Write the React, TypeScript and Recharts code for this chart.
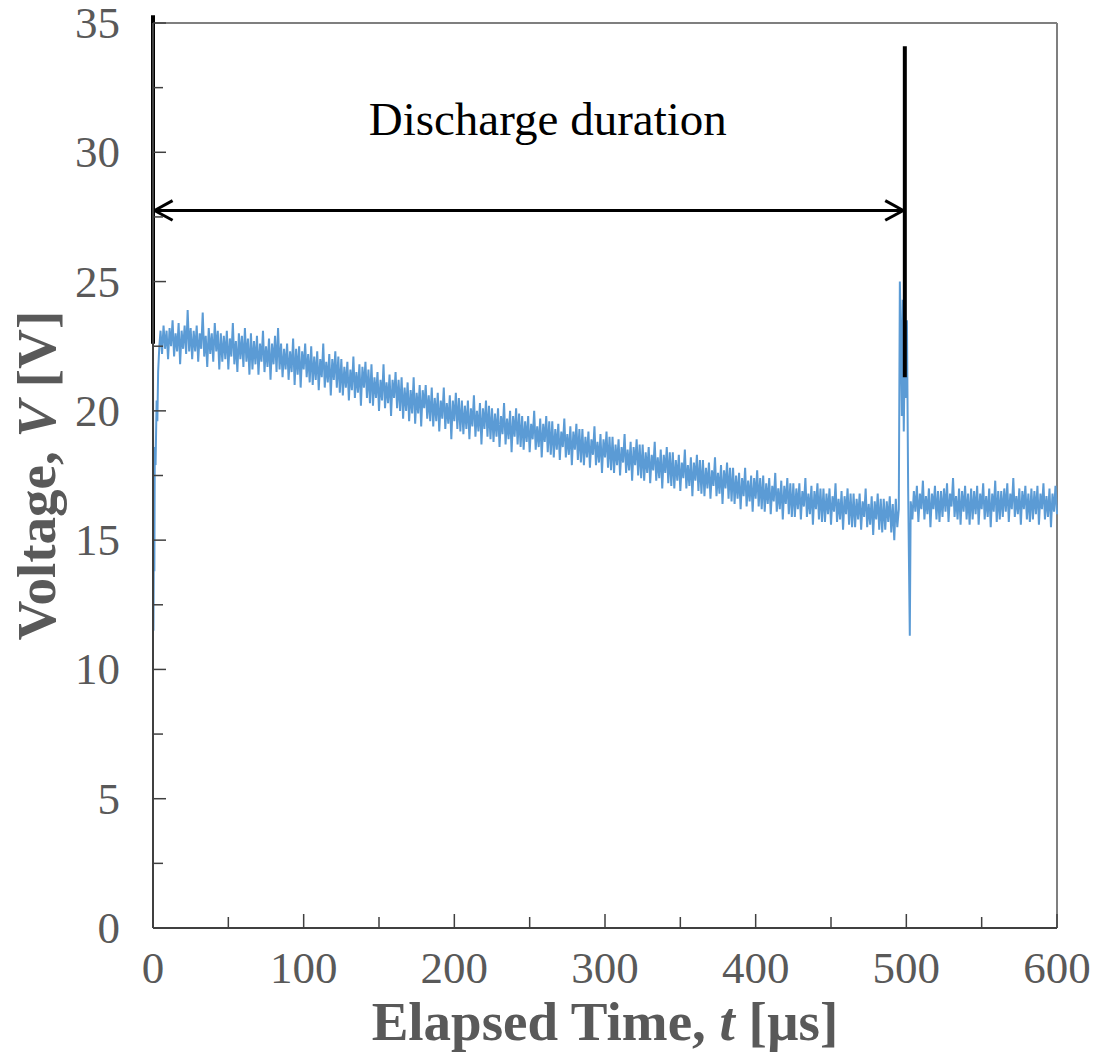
import React from "react";
import {
  LineChart,
  Line,
  XAxis,
  YAxis,
  ReferenceLine,
  ReferenceDot,
} from "recharts";

// discharge onset (sub-microsecond detail), [t µs, V]
const ONSET = [
  [0, 22.5], [0.3, 11.5], [0.6, 15.2], [0.9, 13.8], [1.2, 18.6], [1.7, 17.9],
  [2.4, 20.4], [2.9, 19.6], [3.4, 21.5], [4.2, 22.5], [5, 23.1],
];

// arc voltage during discharge, every 1 µs from t = 6 to t = 494
const DECAY_START = 6;
const DECAY_V = [
  22.2, 23.3, 22.4, 23.1, 22.0, 23.2, 22.5, 23.5, 22.1, 23.0, 22.3, 23.4, 21.8, 23.1, 22.4, 23.3, 22.2, 23.9, 22.3, 23.2,
  22.0, 23.1, 22.3, 23.3, 21.9, 23.0, 22.4, 23.8, 22.1, 22.9, 21.7, 23.2, 22.2, 23.0, 21.9, 23.4, 22.3, 23.1, 21.6, 23.0,
  21.9, 22.9, 22.0, 23.1, 21.6, 22.8, 22.1, 23.4, 21.8, 22.7, 21.5, 23.0, 22.0, 22.9, 21.7, 23.2, 21.9, 22.8, 21.4, 23.0,
  21.6, 22.7, 21.8, 22.9, 21.4, 22.6, 21.9, 23.1, 21.5, 22.5, 21.7, 22.8, 21.2, 22.6, 21.8, 22.9, 21.5, 23.2, 21.6, 22.6,
  21.3, 22.4, 21.6, 22.6, 21.2, 22.3, 21.5, 22.8, 21.0, 22.4, 21.4, 22.5, 20.9, 22.3, 21.6, 22.6, 21.3, 22.2, 21.1, 22.5,
  21.0, 22.1, 21.2, 22.3, 20.8, 22.0, 21.3, 22.6, 20.9, 21.9, 21.1, 22.2, 20.6, 22.0, 21.2, 22.3, 20.9, 22.1, 20.7, 22.0,
  20.6, 21.7, 20.9, 21.9, 20.4, 21.6, 20.8, 22.1, 20.5, 21.5, 20.7, 21.8, 20.2, 21.7, 20.9, 21.9, 20.5, 21.6, 20.3, 21.8,
  20.2, 21.3, 20.5, 21.5, 20.0, 21.2, 20.4, 21.8, 20.1, 21.1, 20.3, 21.4, 19.8, 21.2, 20.5, 21.5, 20.1, 21.2, 20.0, 21.3,
  19.7, 20.9, 20.0, 21.1, 19.6, 20.8, 19.9, 21.3, 19.5, 20.7, 19.9, 21.0, 19.4, 20.8, 20.1, 21.0, 19.7, 20.6, 19.6, 20.9,
  19.4, 20.5, 19.6, 20.7, 19.2, 20.4, 19.7, 20.9, 19.3, 20.3, 19.5, 20.6, 18.9, 20.4, 19.6, 20.7, 19.3, 20.5, 19.2, 20.4,
  19.1, 20.2, 19.3, 20.4, 18.9, 20.1, 19.4, 20.6, 19.0, 20.0, 19.2, 20.3, 18.7, 20.1, 19.3, 20.4, 19.0, 20.2, 18.9, 20.1,
  18.8, 19.9, 19.0, 20.1, 18.6, 19.8, 19.1, 20.3, 18.7, 19.7, 18.9, 20.0, 18.4, 19.8, 19.0, 20.1, 18.7, 19.9, 18.6, 19.8,
  18.5, 19.6, 18.8, 19.8, 18.4, 19.5, 18.9, 20.0, 18.5, 19.4, 18.6, 19.7, 18.2, 19.5, 18.8, 19.8, 18.4, 19.6, 18.3, 19.6,
  18.2, 19.3, 18.5, 19.5, 18.1, 19.2, 18.6, 19.7, 18.2, 19.1, 18.3, 19.4, 17.9, 19.2, 18.5, 19.5, 18.1, 19.3, 18.0, 19.3,
  17.9, 19.0, 18.2, 19.2, 17.8, 18.9, 18.3, 19.4, 17.9, 18.8, 18.0, 19.1, 17.6, 18.9, 18.2, 19.2, 17.8, 19.0, 17.7, 19.0,
  17.6, 18.7, 17.9, 18.9, 17.5, 18.6, 18.0, 19.1, 17.6, 18.5, 17.7, 18.8, 17.3, 18.6, 17.9, 18.9, 17.5, 18.7, 17.4, 18.7,
  17.3, 18.4, 17.6, 18.6, 17.2, 18.3, 17.7, 18.8, 17.3, 18.2, 17.4, 18.5, 17.0, 18.3, 17.6, 18.6, 17.2, 18.4, 17.1, 18.4,
  17.0, 18.1, 17.3, 18.3, 16.9, 18.0, 17.4, 18.5, 17.0, 17.9, 17.1, 18.2, 16.7, 18.0, 17.3, 18.3, 16.9, 18.1, 16.8, 18.1,
  16.7, 17.8, 17.0, 18.0, 16.6, 17.7, 17.1, 18.2, 16.7, 17.6, 16.8, 17.9, 16.4, 17.7, 17.0, 18.0, 16.6, 17.8, 16.5, 17.8,
  16.4, 17.5, 16.6, 17.6, 16.2, 17.4, 16.7, 17.8, 16.3, 17.3, 16.5, 17.5, 16.1, 17.4, 16.6, 17.7, 16.3, 17.4, 16.2, 17.5,
  16.1, 17.2, 16.4, 17.4, 16.0, 17.1, 16.5, 17.6, 16.1, 17.0, 16.2, 17.3, 15.8, 17.1, 16.4, 17.4, 16.0, 17.2, 15.9, 17.2,
  15.9, 17.0, 16.2, 17.2, 15.8, 16.9, 16.3, 17.4, 15.9, 16.8, 16.0, 17.1, 15.6, 16.9, 16.2, 17.2, 15.8, 17.0, 15.7, 17.0,
  15.7, 16.8, 16.0, 17.0, 15.6, 16.7, 16.1, 17.2, 15.7, 16.6, 15.8, 16.9, 15.4, 16.7, 16.0, 17.0, 15.6, 16.8, 15.5, 16.8,
  15.5, 16.6, 15.8, 16.8, 15.4, 16.5, 15.9, 17.0, 15.5, 16.4, 15.6, 16.7, 15.2, 16.5, 15.8, 16.8, 15.4, 16.6, 15.3, 16.6,
  15.4, 16.5, 15.7, 16.7, 15.3, 16.4, 15.0, 16.6, 15.5,
];

// end of discharge spike, [t µs, V]
const ARC_END = [
  [495, 16.2], [495.7, 25.0], [496.3, 23.0], [497, 19.8], [497.6, 24.3],
  [498.3, 19.2], [499, 22.6], [499.7, 20.5], [500.4, 23.5], [501.2, 17.0],
  [502.3, 11.3], [502.9, 16.5],
];

// after discharge, every 1 µs from t = 504 to t = 600
const TAIL_START = 504;
const TAIL_V = [
  15.8, 16.9, 16.1, 17.1, 15.7, 16.8, 16.2, 17.3, 15.8, 16.7, 16.0, 17.0, 15.5, 16.8, 16.2, 17.1, 15.8, 16.9, 15.7, 16.9,
  15.9, 17.0, 16.1, 17.2, 15.7, 16.8, 16.3, 17.4, 15.9, 16.7, 15.8, 17.0, 15.6, 16.9, 16.1, 17.1, 15.8, 16.8, 15.6, 17.0,
  15.8, 16.9, 16.0, 17.1, 15.6, 16.8, 16.2, 17.2, 15.8, 16.7, 15.9, 17.0, 15.5, 16.8, 16.1, 17.3, 15.7, 16.9, 15.8, 16.9,
  15.9, 17.0, 16.1, 17.2, 15.7, 16.8, 16.2, 17.4, 15.9, 16.7, 16.0, 17.0, 15.6, 16.9, 16.2, 17.1, 15.8, 16.8, 15.7, 17.0,
  15.8, 16.9, 16.0, 17.1, 15.6, 16.8, 16.2, 17.2, 15.8, 16.7, 15.9, 17.0, 15.5, 16.8, 16.1, 17.1, 16.0,
];

const X_TICKS = [0, 50, 100, 150, 200, 250, 300, 350, 400, 450, 500, 550, 600];
const Y_TICKS = [0, 2.5, 5, 7.5, 10, 12.5, 15, 17.5, 20, 22.5, 25, 27.5, 30, 32.5, 35];

// discharge start / end markers
const START_T = 0;
const END_T = 499;
const ARROW_V = 27.75;

const data = [
  ...ONSET.map(([t, v]) => ({ t, v })),
  ...DECAY_V.map((v, i) => ({ t: DECAY_START + i, v })),
  ...ARC_END.map(([t, v]) => ({ t, v })),
  ...TAIL_V.map((v, i) => ({ t: TAIL_START + i, v })),
];

const FONT = "'Liberation Serif', 'Times New Roman', serif";
const GRAY = "#595959";
const AXIS = "#404040";

const YTick = (props: any) => {
  const { x, y, payload } = props;
  const major = payload.value % 5 === 0;
  return (
    <g>
      <line x1={x} x2={x + (major ? 13 : 10)} y1={y} y2={y} stroke={AXIS} strokeWidth={1.5} />
      {major && (
        <text x={x - 33} y={y + 15} textAnchor="end"
          fontSize={45} fontFamily={FONT} fill={GRAY}>
          {payload.value}
        </text>
      )}
    </g>
  );
};

const XTick = (props: any) => {
  const { x, y, payload } = props;
  const major = payload.value % 100 === 0;
  return (
    <g>
      <line x1={x} x2={x} y1={y} y2={y - (major ? 14 : 11)} stroke={AXIS} strokeWidth={1.5} />
      {major && (
        <text x={x} y={y + 55} textAnchor="middle" fontSize={45} fontFamily={FONT} fill={GRAY}>
          {payload.value}
        </text>
      )}
    </g>
  );
};

const XTitle = (props: any) => {
  const { x, y, width } = props.viewBox;
  return (
    <text x={x + width / 2} y={y + 112} textAnchor="middle" fontSize={55}
      fontWeight="bold" fontFamily={FONT} fill={GRAY}>
      Elapsed Time, <tspan fontStyle="italic">t</tspan> [µs]
    </text>
  );
};

const YTitle = (props: any) => {
  const { y, height } = props.viewBox;
  const cx = 55;
  const cy = y + height / 2;
  return (
    <text x={cx} y={cy} transform={`rotate(-90 ${cx} ${cy})`} textAnchor="middle"
      fontSize={55} fontWeight="bold" fontFamily={FONT} fill={GRAY}>
      Voltage, <tspan fontStyle="italic">V</tspan> [V]
    </text>
  );
};

export default function App() {
  return (
    <div style={{ position: "absolute", left: 0, top: 0, background: "#fff" }}>
      <LineChart
        width={1096}
        height={1056}
        data={data}
        margin={{ top: 23, right: 39, left: 0, bottom: 0 }}
      >
        <XAxis
          type="number"
          dataKey="t"
          domain={[0, 600]}
          ticks={X_TICKS}
          interval={0}
          height={128}
          tickSize={0}
          tickMargin={0}
          tickLine={false}
          tick={<XTick />}
          axisLine={{ stroke: AXIS, strokeWidth: 2 }}
          label={<XTitle />}
        />
        <YAxis
          type="number"
          domain={[0, 35]}
          ticks={Y_TICKS}
          interval={0}
          width={153}
          tickSize={0}
          tickMargin={0}
          tickLine={false}
          tick={<YTick />}
          axisLine={{ stroke: AXIS, strokeWidth: 2 }}
          label={<YTitle />}
        />
        {/* plot frame */}
        <ReferenceLine y={35} stroke="#7f7f7f" strokeWidth={2} />
        <ReferenceLine x={600} stroke="#7f7f7f" strokeWidth={2} />

        <Line
          type="linear"
          dataKey="v"
          stroke="#5B9BD5"
          strokeWidth={2}
          dot={false}
          isAnimationActive={false}
        />

        {/* discharge duration annotation */}
        <ReferenceLine
          segment={[{ x: START_T, y: 22.6 }, { x: START_T, y: 35.3 }]}
          stroke="#000" strokeWidth={4} ifOverflow="visible"
        />
        <ReferenceLine
          segment={[{ x: END_T, y: 21.3 }, { x: END_T, y: 34.1 }]}
          stroke="#000" strokeWidth={4} ifOverflow="visible"
        />
        <ReferenceLine
          segment={[{ x: START_T + 1, y: ARROW_V }, { x: END_T - 1, y: ARROW_V }]}
          stroke="#000" strokeWidth={3} ifOverflow="visible"
        />
        <ReferenceLine
          segment={[{ x: START_T + 1, y: ARROW_V }, { x: START_T + 13, y: ARROW_V + 0.38 }]}
          stroke="#000" strokeWidth={3} ifOverflow="visible"
        />
        <ReferenceLine
          segment={[{ x: START_T + 1, y: ARROW_V }, { x: START_T + 13, y: ARROW_V - 0.38 }]}
          stroke="#000" strokeWidth={3} ifOverflow="visible"
        />
        <ReferenceLine
          segment={[{ x: END_T - 1, y: ARROW_V }, { x: END_T - 13, y: ARROW_V + 0.38 }]}
          stroke="#000" strokeWidth={3} ifOverflow="visible"
        />
        <ReferenceLine
          segment={[{ x: END_T - 1, y: ARROW_V }, { x: END_T - 13, y: ARROW_V - 0.38 }]}
          stroke="#000" strokeWidth={3} ifOverflow="visible"
        />
        <ReferenceDot
          x={262}
          y={31.3}
          r={0}
          fill="none"
          stroke="none"
          ifOverflow="visible"
          label={{
            value: "Discharge duration",
            position: "center",
            fill: "#000",
            fontSize: 47,
            fontFamily: FONT,
          }}
        />
      </LineChart>
    </div>
  );
}
